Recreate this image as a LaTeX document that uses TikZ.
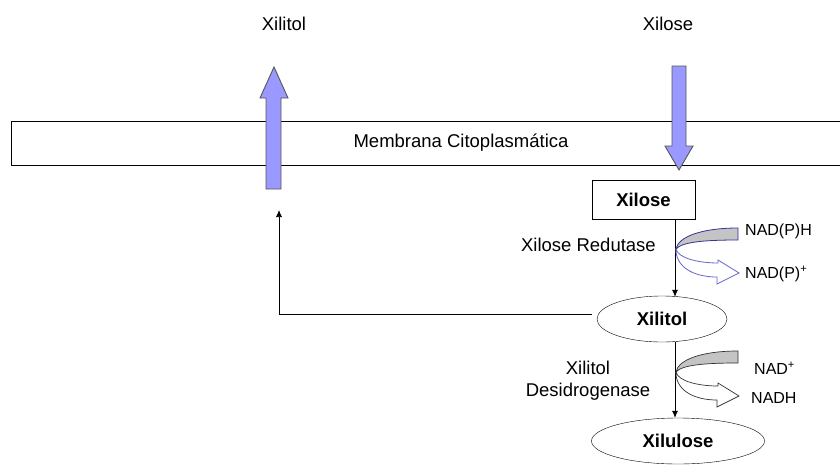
\documentclass[tikz,border=0pt]{standalone}
\usepackage{fontspec}
\setmainfont{Liberation Sans}
\usetikzlibrary{shapes.geometric,arrows.meta}

\definecolor{setaazul}{HTML}{9999FF}
\definecolor{bordaseta}{HTML}{555555}
\definecolor{cinzacof}{HTML}{C4C4C4}
\definecolor{azulcof}{HTML}{333399}
\definecolor{azulclaro}{HTML}{6666CC}

\tikzset{
	rotulo/.style={font=\fontsize{18.5}{22}\selectfont, inner sep=0pt},
	cofator/.style={font=\fontsize{16}{19}\selectfont, inner sep=0pt, anchor=west},
	metabolito/.style={draw, black, font=\fontsize{18.5}{22}\selectfont\bfseries, inner sep=0pt},
	transporte/.style={fill=setaazul, draw=bordaseta, line width=0.9pt, line join=miter},
	ligacao/.style={-{Latex[length=7pt,width=6pt]}, black, line width=0.7pt}
}

\begin{document}
\begin{tikzpicture}[x=1pt,y=-1pt]
	\useasboundingbox (0,0) rectangle (840,466);

	% membrana
	\draw [black, line width=0.8pt] (845,121) -- (11,121) -- (11,165) -- (845,165);
	\node [name=membrana, rotulo] at (461,143) {Membrana Citoplasm\'atica};

	% lado de fora
	\node [name=xilitolfora, rotulo] at (284,24) {Xilitol};
	\node [name=xilosefora, rotulo] at (668,24) {Xilose};

	% setas de transporte
	\draw [transporte] (266,189) -- (266,98) -- (260,98) -- (274,67) -- (288,98) -- (281,98) -- (281,189) -- cycle;
	\draw [transporte] (672,66) -- (686,66) -- (686,146) -- (693,146) -- (679,170) -- (665,146) -- (672,146) -- cycle;

	% metabolitos
	\node [name=xilose, metabolito, rectangle, minimum width=103, minimum height=39] at (643.5,199.5) {Xilose};
	\node [name=xilitol, metabolito, ellipse, minimum width=130, minimum height=46] at (662,319) {Xilitol};
	\node [name=xilulose, metabolito, ellipse, minimum width=173, minimum height=46] at (678,441) {Xilulose};

	% enzimas
	\node [name=redutase, rotulo, anchor=east] at (656,245) {Xilose Redutase};
	\node [name=desidrogenase, rotulo, align=center] at (588,381) {Xilitol\\Desidrogenase};

	% via
	\coordinate (via) at (675,0);
	\draw [ligacao] (xilose.south -| via) -- ([yshift=-1pt]xilitol.north -| via);
	\draw [ligacao] (xilitol.south -| via) -- (xilulose.north -| via);

	% retorno do xilitol
	\coordinate (inicio) at ([xshift=-5pt,yshift=5pt]xilitol.west);
	\coordinate (saida) at (279,210);
	\draw [ligacao] (inicio) -| (saida);

	% cofatores
	\begin{scope}[shift={(676,249)}]
		\draw [fill=cinzacof, draw=azulcof, line width=0.8pt] (62,-21) .. controls (25,-21) and (2,-12) .. (0,0) .. controls (6,-7) and (28,-9) .. (62,-9) -- cycle;
		\draw [fill=white, draw=azulclaro, line width=0.8pt] (0,0) .. controls (2,9) and (22,14) .. (42,14) -- (42,11) -- (63,24) -- (41,35) -- (41,28) .. controls (20,28) and (2,20) .. (0,3) -- cycle;
	\end{scope}
	\begin{scope}[shift={(676,372)}]
		\draw [fill=cinzacof, draw=black!80, line width=0.7pt] (62,-21) .. controls (25,-21) and (2,-12) .. (0,0) .. controls (6,-7) and (28,-9) .. (62,-9) -- cycle;
		\draw [fill=white, draw=black!80, line width=0.7pt] (0,0) .. controls (2,9) and (22,14) .. (42,14) -- (42,11) -- (63,24) -- (41,35) -- (41,28) .. controls (20,28) and (2,20) .. (0,3) -- cycle;
	\end{scope}

	\node [name=nadph, cofator] at (745,231) {NAD(P)H};
	\node [name=nadp, cofator] at (745,274) {NAD(P)\textsuperscript{+}};
	\node [name=nad, cofator] at (754,368) {NAD\textsuperscript{+}};
	\node [name=nadh, cofator] at (751,398) {NADH};

\end{tikzpicture}
\end{document}
